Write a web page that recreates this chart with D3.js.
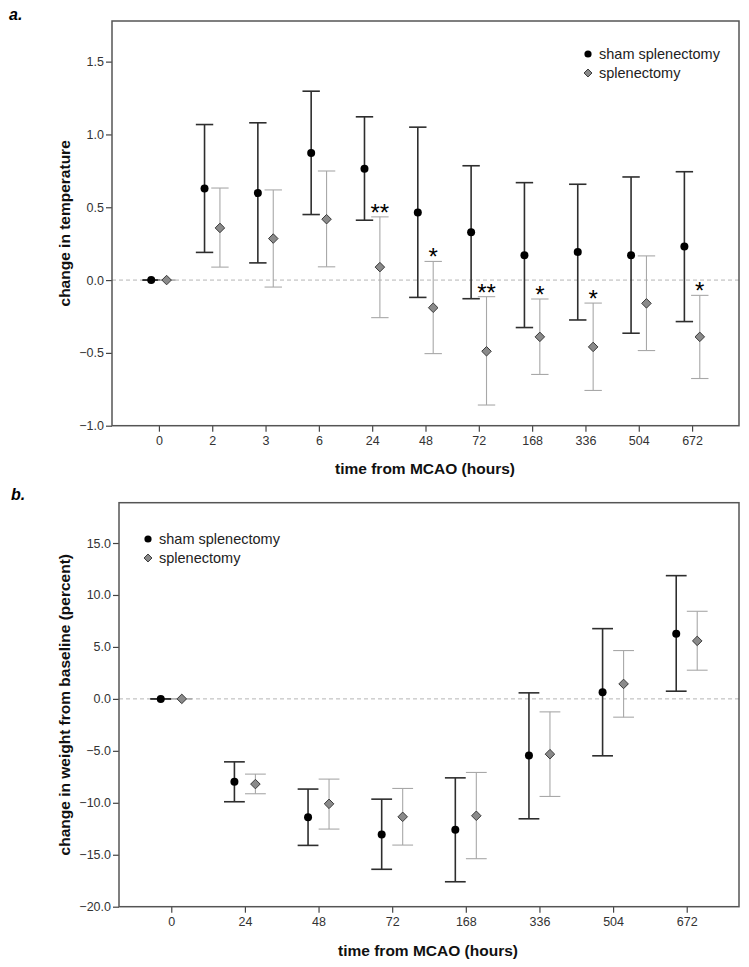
<!DOCTYPE html>
<html><head><meta charset="utf-8">
<script src="https://cdn.jsdelivr.net/npm/d3@7"></script>
<style>
body{margin:0;background:#fff;}
svg{display:block;font-family:"Liberation Sans",Arial,sans-serif;}
</style></head>
<body><svg id="chart" width="749" height="967"></svg>
<script>
// ---------- Panel a data: change in temperature ----------
const timesA = ["0","2","3","6","24","48","72","168","336","504","672"];
const shamTempMean = [0, 0.628, 0.598, 0.872, 0.765, 0.464, 0.329, 0.171, 0.192, 0.171, 0.231];
const shamTempHi   = [0, 1.068, 1.080, 1.297, 1.121, 1.050, 0.785, 0.669, 0.658, 0.708, 0.744];
const shamTempLo   = [0, 0.190, 0.118, 0.450, 0.411, -0.119, -0.128, -0.326, -0.274, -0.365, -0.285];
const splTempMean  = [0, 0.358, 0.285, 0.418, 0.089, -0.190, -0.489, -0.390, -0.459, -0.160, -0.390];
const splTempHi    = [0, 0.632, 0.619, 0.749, 0.434, 0.128, -0.114, -0.130, -0.158, 0.166, -0.105];
const splTempLo    = [0, 0.089, -0.048, 0.091, -0.258, -0.505, -0.858, -0.648, -0.758, -0.484, -0.676];
const sigTemp      = ["", "", "", "", "**", "*", "**", "*", "*", "", "*"];
const yTicksA = [-1.0, -0.5, 0.0, 0.5, 1.0, 1.5];

// ---------- Panel b data: change in weight ----------
const timesB = ["0","24","48","72","168","336","504","672"];
const shamWtMean = [0, -7.98, -11.38, -13.05, -12.60, -5.45, 0.64, 6.28];
const shamWtHi   = [0, -6.06, -8.68, -9.65, -7.60, 0.58, 6.76, 11.86];
const shamWtLo   = [0, -9.90, -14.10, -16.40, -17.60, -11.54, -5.48, 0.74];
const splWtMean  = [0, -8.20, -10.10, -11.35, -11.25, -5.32, 1.44, 5.58];
const splWtHi    = [0, -7.24, -7.72, -8.62, -7.08, -1.25, 4.65, 8.43];
const splWtLo    = [0, -9.13, -12.53, -14.07, -15.38, -9.39, -1.76, 2.76];
const yTicksB = [-20, -15, -10, -5, 0, 5, 10, 15];

const seriesNames = ["sham splenectomy", "splenectomy"];

const svg = d3.select("#chart");

function panel(cfg) {
  const g = svg.append("g");
  const x = d3.scalePoint().domain(cfg.times).range([cfg.left, cfg.right]).padding(cfg.pad);
  const y = d3.scaleLinear().domain(cfg.ydom).range([cfg.bottom, cfg.top]);

  // zero reference line
  g.append("line")
    .attr("x1", cfg.left).attr("x2", cfg.right)
    .attr("y1", y(0)).attr("y2", y(0))
    .attr("stroke", "#b5b5b5").attr("stroke-width", 1).attr("stroke-dasharray", "4,3");

  // axes
  const yAxis = d3.axisLeft(y).tickValues(cfg.yticks).tickFormat(d3.format(".1f")).tickSize(6).tickPadding(2);
  const gy = g.append("g").attr("transform", `translate(${cfg.left},0)`).call(yAxis);
  const xAxis = d3.axisBottom(x).tickSize(6).tickPadding(4);
  const gx = g.append("g").attr("transform", `translate(0,${cfg.bottom})`).call(xAxis);
  [gy, gx].forEach(a => {
    a.select(".domain").remove();
    a.selectAll(".tick line").attr("stroke", "#444").attr("stroke-width", 1.2);
    a.selectAll(".tick text").attr("fill", "#333").style("font-size", "12.5px")
      .style("font-family", '"Liberation Sans",Arial,sans-serif');
  });

  // frame
  g.append("rect")
    .attr("x", cfg.left).attr("y", cfg.top)
    .attr("width", cfg.right - cfg.left).attr("height", cfg.bottom - cfg.top)
    .attr("fill", "none").attr("stroke", "#555").attr("stroke-width", 1.5);

  const series = [
    {mean: cfg.shamMean, hi: cfg.shamHi, lo: cfg.shamLo, dx: -cfg.off, color: "#2e2e2e", w: 1.6, kind: "circle"},
    {mean: cfg.splMean, hi: cfg.splHi, lo: cfg.splLo, dx: cfg.off, color: "#a8a8a8", w: 1.1, kind: "diamond"}
  ];
  series.forEach(s => {
    const data = cfg.times.map((t, i) => ({t, m: s.mean[i], hi: s.hi[i], lo: s.lo[i]}));
    const eg = g.append("g");
    eg.selectAll("line.v").data(data).join("line")
      .attr("x1", d => x(d.t) + s.dx).attr("x2", d => x(d.t) + s.dx)
      .attr("y1", d => y(d.hi)).attr("y2", d => y(d.lo))
      .attr("stroke", s.color).attr("stroke-width", s.w);
    ["hi", "lo"].forEach(k => {
      eg.selectAll("line.c" + k).data(data).join("line")
        .attr("x1", d => x(d.t) + s.dx - cfg.cap).attr("x2", d => x(d.t) + s.dx + cfg.cap)
        .attr("y1", d => y(d[k])).attr("y2", d => y(d[k]))
        .attr("stroke", s.color).attr("stroke-width", s.w);
    });
    if (s.kind === "circle") {
      eg.selectAll("circle").data(data).join("circle")
        .attr("cx", d => x(d.t) + s.dx).attr("cy", d => y(d.m)).attr("r", 4)
        .attr("fill", "#000");
    } else {
      eg.selectAll("path").data(data).join("path")
        .attr("d", d3.symbol(d3.symbolDiamond2, 58))
        .attr("transform", d => `translate(${x(d.t) + s.dx},${y(d.m)})`)
        .attr("fill", "#8a8a8a").attr("stroke", "#3a3a3a").attr("stroke-width", 1);
    }
  });

  // significance stars
  if (cfg.sig) {
    g.selectAll("text.sig").data(cfg.times.map((t, i) => ({t, s: cfg.sig[i], hi: cfg.splHi[i]})).filter(d => d.s))
      .join("text")
      .attr("x", d => x(d.t) + cfg.off)
      .attr("y", d => y(d.hi) + 4)
      .attr("text-anchor", "middle")
      .style("font-size", "24px").attr("fill", "#000")
      .text(d => d.s);
  }

  // legend
  const lg = g.append("g");
  lg.append("circle").attr("cx", cfg.legX).attr("cy", cfg.legY).attr("r", 3.6).attr("fill", "#000");
  lg.append("path").attr("d", d3.symbol(d3.symbolDiamond2, 40))
    .attr("transform", `translate(${cfg.legX},${cfg.legY + 19})`)
    .attr("fill", "#8a8a8a").attr("stroke", "#3a3a3a").attr("stroke-width", 1);
  seriesNames.forEach((n, i) => {
    lg.append("text").attr("x", cfg.legX + 11).attr("y", cfg.legY + 5 + i * 19)
      .style("font-size", "14.5px").attr("fill", "#222").text(n);
  });

  // axis titles
  g.append("text")
    .attr("transform", `translate(${cfg.ytX},${(cfg.top + cfg.bottom) / 2}) rotate(-90)`)
    .attr("text-anchor", "middle").style("font-size", "15.5px").style("font-weight", "bold")
    .attr("fill", "#111").text(cfg.ytitle);
  g.append("text")
    .attr("x", cfg.xtX).attr("y", cfg.xtY)
    .attr("text-anchor", "middle").style("font-size", "15.5px").style("font-weight", "bold")
    .attr("fill", "#111").text("time from MCAO (hours)");

  // panel letter
  g.append("text").attr("x", cfg.letX).attr("y", cfg.letY)
    .style("font-size", "16px").style("font-weight", "bold").style("font-style", "italic")
    .attr("fill", "#000").text(cfg.letter);
}

panel({
  times: timesA, left: 112, right: 739, top: 21, bottom: 425.7, pad: 0.88,
  ydom: [-1.0, 1.779], yticks: yTicksA, off: 7.7, cap: 8.7,
  shamMean: shamTempMean, shamHi: shamTempHi, shamLo: shamTempLo,
  splMean: splTempMean, splHi: splTempHi, splLo: splTempLo, sig: sigTemp,
  legX: 588, legY: 54, ytitle: "change in temperature", ytX: 70, xtX: 425, xtY: 474,
  letter: "a.", letX: 9, letY: 20
});

panel({
  times: timesB, left: 119, right: 739, top: 502.7, bottom: 906.7, pad: 0.71,
  ydom: [-20, 18.88], yticks: yTicksB, off: 10.5, cap: 10.4,
  shamMean: shamWtMean, shamHi: shamWtHi, shamLo: shamWtLo,
  splMean: splWtMean, splHi: splWtHi, splLo: splWtLo, sig: null,
  legX: 148, legY: 539, ytitle: "change in weight from baseline (percent)", ytX: 70, xtX: 428, xtY: 956,
  letter: "b.", letX: 11, letY: 500
});
</script></body></html>
